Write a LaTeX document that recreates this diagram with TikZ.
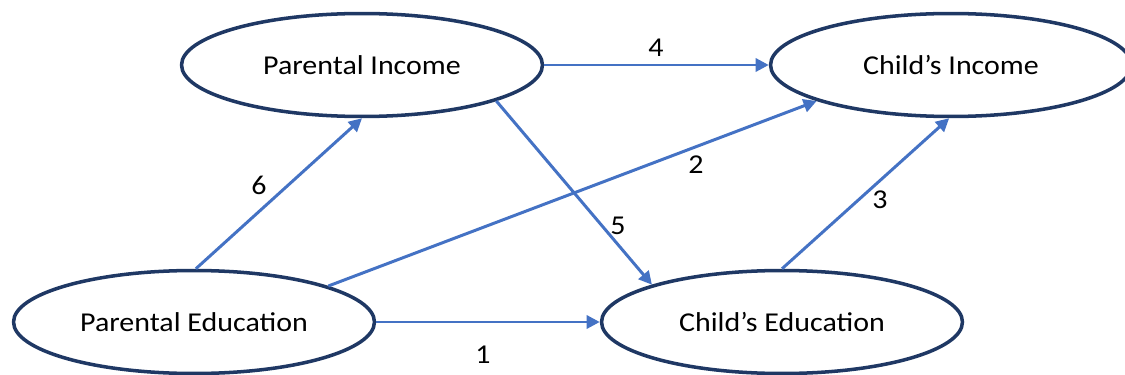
\documentclass[tikz,border=0pt]{standalone}
\usepackage{fontspec}
\setmainfont{Carlito}[FakeStretch=1.1]
\usetikzlibrary{shapes.geometric,arrows.meta}
\definecolor{navy}{HTML}{1F3864}
\definecolor{arrowblue}{HTML}{4472C4}
\tikzset{
  varbox/.style={ellipse, draw=navy, line width=2pt, fill=white, inner sep=0pt,
    minimum width=7.22cm, minimum height=2.06cm, font=\fontsize{15.5}{18}\selectfont},
  link/.style={draw=arrowblue, line width=1.7pt, -{Triangle[length=7.5pt,width=7.5pt]}},
  lab/.style={font=\fontsize{15.5}{18}\selectfont, inner sep=1pt}
}
\begin{document}
\begin{tikzpicture}[x=0.02cm,y=-0.02cm]
\useasboundingbox (0,0) rectangle (1125,375);
\node[varbox] (PI) at (362,65) {Parental Income};
\node[varbox] (CI) at (951,65) {Child’s Income};
\node[varbox] (PE) at (194,322) {Parental Education};
\node[varbox] (CE) at (782,322) {Child’s Education};
\draw[link] (PE.east) -- (CE.west);
\draw[link] (PE.15) -- (CI.195.5);
\draw[link] (CE.90) -- (CI.268);
\draw[link] (PI.east) -- (CI.west);
\draw[link] (PI.345) -- (CE.164);
\draw[link] (PE.88) -- (PI.270);
\node[lab] (l1) at (483,355) {1};
\node[lab] (l2) at (696,165) {2};
\node[lab] (l3) at (880,200) {3};
\node[lab] (l4) at (656,48) {4};
\node[lab] (l5) at (618,226) {5};
\node[lab] (l6) at (259,185) {6};
\end{tikzpicture}
\end{document}
